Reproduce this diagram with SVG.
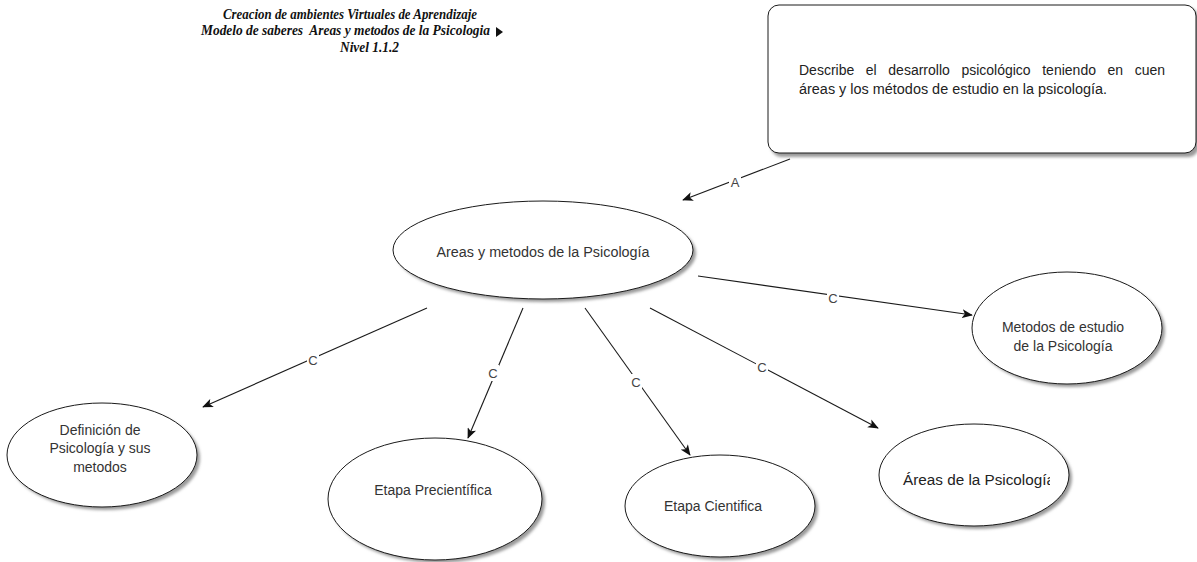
<svg xmlns="http://www.w3.org/2000/svg" width="1197" height="562" viewBox="0 0 1197 562">
  <style>
    .title { font-family: "Liberation Serif", "DejaVu Serif", serif; font-style: italic; font-weight: bold; font-size: 15px; fill: #111; white-space: pre; }
    .node { fill: #ffffff; stroke: #1a1a1a; stroke-width: 1; }
    .shadow { fill: #9a9a9a; filter: url(#soft); }
    .label { font-family: "Liberation Sans", Arial, sans-serif; font-size: 14px; fill: #333; text-anchor: middle; }
    .box-text { font-family: "Liberation Sans", Arial, sans-serif; font-size: 14px; fill: #222; }
    .edge { stroke: #1a1a1a; stroke-width: 1.1; fill: none; marker-end: url(#arrow); }
    .edge-label { font-family: "Liberation Sans", Arial, sans-serif; font-size: 13px; fill: #444; text-anchor: middle; dominant-baseline: central; }
    .gap { fill: #ffffff; }
  </style>
  <defs>
    <filter id="soft" x="-10%" y="-10%" width="120%" height="130%">
      <feGaussianBlur stdDeviation="1.6"/>
    </filter>
    <marker id="arrow" viewBox="0 0 12 10" refX="11" refY="5" markerWidth="11" markerHeight="9" markerUnits="userSpaceOnUse" orient="auto">
      <path d="M0,0 L12,5 L0,10 L3,5 Z" fill="#111"/>
    </marker>
    <clipPath id="clip-areas">
      <rect x="880" y="420" width="170" height="110"/>
    </clipPath>
    <clipPath id="clip-box">
      <rect x="768" y="0" width="398" height="160"/>
    </clipPath>
  </defs>

  <rect width="1197" height="562" fill="#ffffff"/>

  <!-- heading -->
  <g id="title">
    <text class="title" x="223" y="19" textLength="254" lengthAdjust="spacingAndGlyphs">Creacion de ambientes Virtuales de Aprendizaje</text>
    <text class="title" x="201" y="35" textLength="289" lengthAdjust="spacingAndGlyphs" xml:space="preserve">Modelo de saberes  Areas y metodos de la Psicologia</text>
    <path d="M496,27 L503,32 L496,37 Z" fill="#111"/>
    <text class="title" x="340" y="52" textLength="59" lengthAdjust="spacingAndGlyphs">Nivel 1.1.2</text>
  </g>

  <!-- description box -->
  <g id="descripcion">
    <rect x="771" y="8" width="428" height="149" rx="11" class="shadow"/>
    <rect x="768" y="5" width="428" height="148" rx="11" class="node"/>
    <g clip-path="url(#clip-box)">
      <text class="box-text" x="799" y="75" word-spacing="7.7">Describe el desarrollo psicológico teniendo en cuen</text>
    </g>
    <text class="box-text" x="799" y="94" textLength="308" lengthAdjust="spacingAndGlyphs">áreas y los métodos de estudio en la psicología.</text>
  </g>

  <!-- central concept -->
  <g id="areas-metodos">
    <ellipse cx="546" cy="253" rx="150" ry="49" class="shadow"/>
    <ellipse cx="543" cy="250" rx="150" ry="49" class="node"/>
    <text class="label" x="543" y="257" textLength="213" lengthAdjust="spacingAndGlyphs">Areas y metodos de la Psicología</text>
  </g>

  <g id="definicion">
    <ellipse cx="105" cy="458" rx="95" ry="52" class="shadow"/>
    <ellipse cx="102" cy="455" rx="95" ry="52" class="node"/>
    <text class="label" x="100" y="435">Definición de</text>
    <text class="label" x="100" y="453">Psicología y sus</text>
    <text class="label" x="100" y="472">metodos</text>
  </g>

  <g id="precientifica">
    <ellipse cx="438" cy="502" rx="107" ry="61" class="shadow"/>
    <ellipse cx="435" cy="499" rx="107" ry="61" class="node"/>
    <text class="label" x="433" y="495">Etapa Precientífica</text>
  </g>

  <g id="cientifica">
    <ellipse cx="723" cy="509" rx="95" ry="51" class="shadow"/>
    <ellipse cx="720" cy="506" rx="95" ry="51" class="node"/>
    <text class="label" x="713" y="511">Etapa Cientifica</text>
  </g>

  <g id="areas-psicologia">
    <ellipse cx="977" cy="478" rx="95" ry="51" class="shadow"/>
    <ellipse cx="974" cy="475" rx="95" ry="51" class="node"/>
    <g clip-path="url(#clip-areas)">
      <text class="box-text" x="903" y="485" textLength="152" lengthAdjust="spacingAndGlyphs">Áreas de la Psicología</text>
    </g>
  </g>

  <g id="metodos-estudio">
    <ellipse cx="1070" cy="331" rx="95" ry="56" class="shadow"/>
    <ellipse cx="1067" cy="328" rx="95" ry="56" class="node"/>
    <text class="label" x="1063" y="332">Metodos de estudio</text>
    <text class="label" x="1063" y="351">de la Psicología</text>
  </g>

  <!-- links -->
  <g id="connectors">
    <path class="edge" d="M790,159 L683,200"/>
    <path class="edge" d="M698,276 L972,315"/>
    <path class="edge" d="M650,308 L878,428"/>
    <path class="edge" d="M585,308 L690,455"/>
    <path class="edge" d="M523,308 L468,438"/>
    <path class="edge" d="M427,308 L203,407"/>

    <rect class="gap" x="729" y="174" width="12" height="16"/>
    <text class="edge-label" x="735" y="182">A</text>
    <rect class="gap" x="827" y="290" width="12" height="16"/>
    <text class="edge-label" x="833" y="298">C</text>
    <rect class="gap" x="756" y="359" width="12" height="16"/>
    <text class="edge-label" x="762" y="367">C</text>
    <rect class="gap" x="630" y="374" width="12" height="16"/>
    <text class="edge-label" x="636" y="382">C</text>
    <rect class="gap" x="487" y="365" width="12" height="16"/>
    <text class="edge-label" x="493" y="373">C</text>
    <rect class="gap" x="307" y="352" width="12" height="16"/>
    <text class="edge-label" x="313" y="360">C</text>
  </g>
</svg>
